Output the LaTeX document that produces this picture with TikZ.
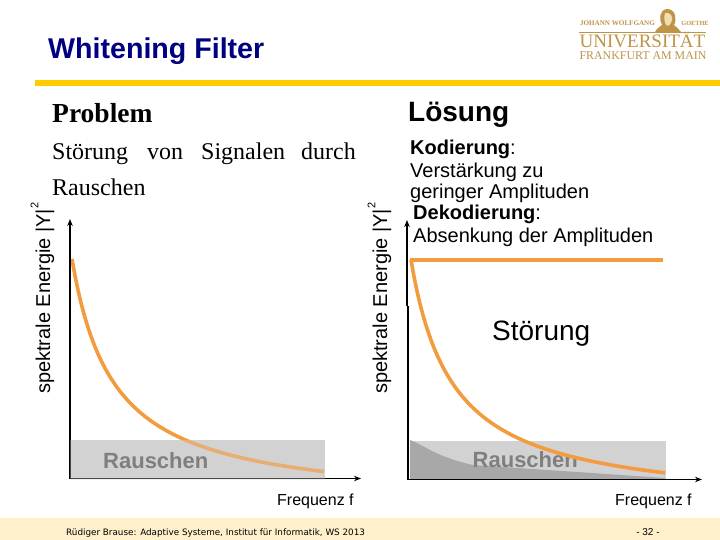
\documentclass[tikz,border=0pt]{standalone}
\usepackage{fontspec}
\setmainfont{Liberation Sans}
\newfontfamily\serifx{Liberation Serif}
\newfontfamily\footx{DejaVu Sans}
\definecolor{curvec}{HTML}{F39C3F}
\definecolor{goldc}{HTML}{FFCC00}
\definecolor{footc}{HTML}{FFF0CC}
\definecolor{navyc}{HTML}{000080}
\definecolor{boxc}{HTML}{D2D2D2}
\definecolor{darkc}{HTML}{A8A8A8}
\definecolor{textgray}{HTML}{7F7F7F}
\definecolor{logoc}{HTML}{BE9448}
\definecolor{facec}{HTML}{F0DDB0}
\usetikzlibrary{arrows.meta}
\tikzset{
  txt/.style={inner sep=0pt,anchor=base west,text=black},
  axisline/.style={draw=black,line width=1.6pt},
  axisarrow/.style={axisline,-{Stealth[length=7pt,width=5.5pt]}},
  curveline/.style={draw=curvec,line width=3.6pt},
  logotxt/.style={inner sep=0pt,anchor=base,text=logoc},
}
\begin{document}
\begin{tikzpicture}[x=1pt,y=-1pt]
\useasboundingbox (0,0) rectangle (720,540);
\fill[white] (0,0) rectangle (720,540);
% footer and rule
\fill[footc] (0,518) rectangle (720,540);
\fill[goldc] (35,80) rectangle (720,86);
% title
\node[txt,text=navyc,font=\fontsize{28.6}{28.6}\selectfont\bfseries] (title) at (48,58.5) {Whitening Filter};
% logo
\node[logotxt,font=\serifx\fontsize{7.1}{7.1}\selectfont\bfseries] (l1) at (617.5,26) {JOHANN WOLFGANG};
\node[logotxt,font=\serifx\fontsize{6.3}{6.3}\selectfont\bfseries] (l2) at (695,26) {GOETHE};
\fill[logoc] (655,32) .. controls (657,28) and (660,27) .. (662,25) .. controls (659,20) and (659,10) .. (667,9) .. controls (676,9) and (677,20) .. (674,25) .. controls (676,27) and (679,29) .. (681,32) -- cycle;
\fill[facec] (665,13) .. controls (670,12) and (673,16) .. (672,20) .. controls (671,25) and (668,27) .. (666,25) .. controls (664,21) and (664,17) .. (665,13) -- cycle;
\fill[logoc] (579,32) rectangle (706,32.8);
\node[logotxt,font=\serifx\fontsize{19}{19}\selectfont] (l3) at (642.5,48) {UNIVERSITÄT};
\node[logotxt,font=\serifx\fontsize{11.9}{11.9}\selectfont] (l4) at (643,60) {FRANKFURT AM MAIN};
% left plot
\coordinate (o1) at (70,478.5);
\coordinate (yt1) at (70,219);
\coordinate (xe1) at (361,478.5);
\fill[boxc] (70,440) rectangle (325,478);
\draw[curveline] plot[domain=72:324,samples=90,smooth] (\x,{507-10416/(\x-30)});
\draw[axisarrow] (o1) -- (yt1);
\draw[axisarrow] (o1) -- (xe1);
\fill[boxc,opacity=.35] (70,440) rectangle (325,479.5);
\node[inner sep=0pt,text=textgray,font=\fontsize{22}{22}\selectfont\bfseries,anchor=base west] (r1) at (103,468) {Rauschen};
\node[txt,font=\fontsize{16}{16}\selectfont] (f1) at (277,505.5) {Frequenz f};
\node[txt,rotate=90,font=\fontsize{20}{20}\selectfont] (y1) at (50,394) {spektrale Energie |Y|\raisebox{1.1ex}{\fontsize{11}{11}\selectfont 2}};
% right plot
\coordinate (o2) at (408,479.5);
\coordinate (j2a) at (408,306);
\coordinate (j2b) at (407,306);
\coordinate (yt2) at (407,220);
\coordinate (xe2) at (702,479.5);
\fill[boxc] (410,441) rectangle (666,479);
\fill[darkc] (410,440) .. controls (418,443) and (424,447) .. (432,451) .. controls (442,456) and (455,461) .. (473,465) -- (577,472) -- (665,478) -- (665,479) -- (410,479) -- cycle;
\node[inner sep=0pt,text=textgray,font=\fontsize{22}{22}\selectfont\bfseries,anchor=base west] (r2) at (472.5,467) {Rauschen};
\draw[curveline] plot[domain=411:665,samples=90,smooth] (\x,{508-10416/(\x-369)});
\draw[curveline] (410,260) -- (663,260);
\draw[axisline] (o2) -- (j2a);
\draw[axisarrow] (j2b) -- (yt2);
\draw[axisarrow] (o2) -- (xe2);
\node[txt,font=\fontsize{16}{16}\selectfont] (f2) at (615,505.5) {Frequenz f};
\node[txt,rotate=90,font=\fontsize{20}{20}\selectfont] (y2) at (387,394) {spektrale Energie |Y|\raisebox{1.1ex}{\fontsize{11}{11}\selectfont 2}};
\node[txt,font=\fontsize{28}{28}\selectfont] (st) at (492,340) {Störung};
% headings
\node[txt,font=\serifx\fontsize{27.5}{27.5}\selectfont\bfseries] (prob) at (52,122.7) {Problem};
\node[txt,font=\fontsize{28}{28}\selectfont\bfseries] (loes) at (408,122) {Lösung};
\node[txt,font=\serifx\fontsize{24}{24}\selectfont] (s1a) at (52,160) {Störung};
\node[txt,font=\serifx\fontsize{24}{24}\selectfont] (s1b) at (147,160) {von};
\node[txt,font=\serifx\fontsize{24}{24}\selectfont] (s1c) at (201,160) {Signalen};
\node[txt,font=\serifx\fontsize{24}{24}\selectfont] (s1d) at (301,160) {durch};
\node[txt,font=\serifx\fontsize{24}{24}\selectfont] (s2) at (52,196) {Rauschen};
% right text
\node[txt,font=\fontsize{20}{20}\selectfont] (k1) at (410,154.5) {\textbf{Kodierung}:};
\node[txt,font=\fontsize{20}{20}\selectfont] (k2) at (410,177.5) {Verstärkung zu};
\node[txt,font=\fontsize{20}{20}\selectfont] (k3) at (410,199) {geringer Amplituden};
\node[txt,font=\fontsize{20}{20}\selectfont] (k4) at (413,220) {\textbf{Dekodierung}:};
\node[txt,font=\fontsize{20}{20}\selectfont] (k5) at (413,243) {Absenkung der Amplituden};
% footer text
\node[txt,font=\footx\fontsize{8.8}{8.8}\selectfont] (ft) at (66,535) {Rüdiger Brause: Adaptive Systeme, Institut für Informatik, WS 2013};
\node[txt,anchor=base,font=\fontsize{10}{10}\selectfont] (pg) at (648,535) {- 32 -};
\end{tikzpicture}
\end{document}
